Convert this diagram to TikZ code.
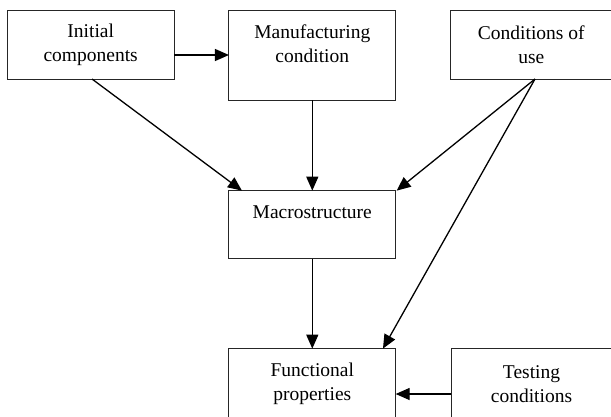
\documentclass[tikz,border=0pt]{standalone}
\usepackage{fontspec}
\setmainfont{Liberation Serif}
\usetikzlibrary{arrows.meta}
\begin{document}
\begin{tikzpicture}[x=1pt,y=-1pt,
  box/.style={draw=black!85,line width=1pt,rectangle,inner sep=0pt,outer sep=0pt},
  txt/.style={align=center,inner sep=0pt,font=\fontsize{19.5}{24}\selectfont},
  arr/.style={draw=black,line width=1.3pt,-{Triangle[length=14pt,width=12pt]}}]
\useasboundingbox (0,0) rectangle (611,416);
% boxes
\node[box,minimum width=166.7pt,minimum height=69pt] (init) at (90.7,44.5) {};
\node[box,minimum width=166.7pt,minimum height=90pt] (manuf) at (312.3,55) {};
\node[box,minimum width=161.3pt,minimum height=69pt] (cond) at (531.3,44.5) {};
\node[box,minimum width=166.7pt,minimum height=68.3pt] (macro) at (312.3,224.8) {};
\node[box,minimum width=166.7pt,minimum height=81.3pt] (func) at (312.3,389.3) {};
\node[box,minimum width=161pt,minimum height=81.3pt] (test) at (531.5,389.3) {};
% texts
\node[txt] (initT) at (90.7,44.5) {Initial\\components};
\node[txt] (manufT) at (312.3,44) {Manufacturing\\condition};
\node[txt] (condT) at (531.3,44.5) {Conditions of\\use};
\node[txt] (macroT) at (312.3,212) {Macrostructure};
\node[txt] (funcT) at (312.3,383.5) {Functional\\properties};
\node[txt] (testT) at (531.5,384) {Testing\\conditions};
% connectors
\coordinate (a1) at ([yshift=-10.5pt]init.east);
\draw[arr] (a1) -- (a1 -| manuf.west);
\draw[arr] ([xshift=1.3pt]init.south) -- ([xshift=13pt]macro.north west);
\draw[arr] (manuf.south) -- (macro.north);
\draw[arr] (macro.south) -- (func.north);
\coordinate (c1) at ([xshift=3.7pt]cond.south);
\draw[arr] (c1) -- ([xshift=1pt]macro.north east);
\draw[arr] (c1) -- ([xshift=-12.7pt]func.north east);
\coordinate (t1) at ([yshift=-4.7pt]test.west);
\draw[arr] (t1) -- (t1 -| func.east);
\end{tikzpicture}
\end{document}
